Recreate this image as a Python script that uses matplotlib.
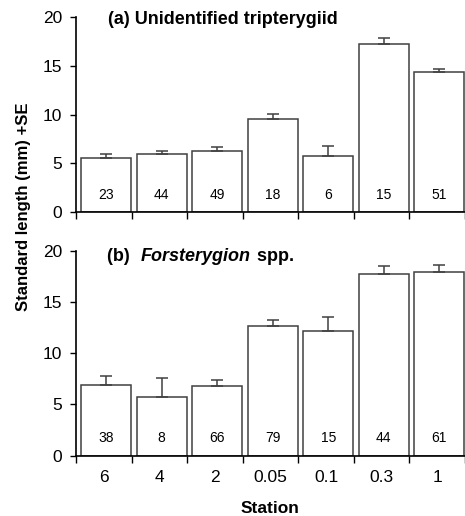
import numpy as np
import matplotlib
matplotlib.use('Agg')
import matplotlib.pyplot as plt
from matplotlib.transforms import offset_copy

plt.rcParams['font.family'] = ['Liberation Sans', 'DejaVu Sans']

estaciones = ['6', '4', '2', '0.05', '0.1', '0.3', '1']

# (a) Unidentified tripterygiid
media_a = [5.5, 5.95, 6.3, 9.5, 5.8, 17.2, 14.4]
se_a = [0.5, 0.35, 0.4, 0.6, 1.0, 0.7, 0.3]
n_a = [23, 44, 49, 18, 6, 15, 51]

# (b) Forsterygion spp.
media_b = [6.9, 5.7, 6.75, 12.7, 12.2, 17.7, 17.9]
se_b = [0.85, 1.9, 0.65, 0.5, 1.3, 0.8, 0.7]
n_b = [38, 8, 66, 79, 15, 44, 61]

fig = plt.figure(figsize=(4.65, 5.16), dpi=100)
ax_a = fig.add_axes([0.1634, 0.589, 0.8366, 0.378])
ax_b = fig.add_axes([0.1634, 0.117, 0.8366, 0.397])

x = np.arange(len(estaciones))


def panel(ax, media, se, n):
    ax.bar(x + 0.04, media, width=0.9, color='white', edgecolor='#404040', linewidth=1.1, zorder=2)
    ax.errorbar(x + 0.04, media, yerr=[np.zeros(len(se)), se], fmt='none', ecolor='#404040',
                elinewidth=1.1, capsize=4.3, capthick=1.1, zorder=3)
    for i in range(len(n)):
        ax.text(x[i] + 0.04, 1.7, str(n[i]), ha='center', va='center', fontsize=10)
    ax.set_xlim(-0.5, 6.5)
    ax.set_ylim(0, 20)
    ax.set_yticks([0, 5, 10, 15, 20])
    ax.spines['top'].set_visible(False)
    ax.spines['right'].set_visible(False)
    ax.spines['left'].set_linewidth(1.2)
    ax.spines['bottom'].set_linewidth(1.2)
    ax.tick_params(axis='y', direction='out', length=4, width=1, labelsize=12.5, pad=6)
    # ticks en x entre barras
    ax.set_xticks(np.arange(-0.5, 7, 1.0))
    ax.set_xticklabels([])
    ax.tick_params(axis='x', direction='out', length=5, width=1)
    ax.set_xticks(x, minor=True)
    ax.tick_params(axis='x', which='minor', length=0)


panel(ax_a, media_a, se_a, n_a)
panel(ax_b, media_b, se_b, n_b)

ax_b.set_xticklabels(estaciones, minor=True, fontsize=12.5)
ax_b.tick_params(axis='x', which='minor', pad=10)

ax_a.text(0.08, 19.7, '(a) Unidentified tripterygiid', fontsize=13, fontweight='bold', va='center')

# titulo (b) en partes: normal + cursiva + normal
partes = [('(b) ', 'normal'), ('Forsterygion', 'italic'), (' spp.', 'normal')]
fig.canvas.draw()
rend = fig.canvas.get_renderer()
trans = ax_b.transData
dx = 0
for txt, estilo in partes:
    t = ax_b.text(0.06, 19.4, txt, fontsize=13, fontweight='bold', fontstyle=estilo, va='center',
                  transform=offset_copy(trans, fig=fig, x=dx, y=0, units='dots'))
    bb = t.get_window_extent(renderer=rend)
    dx += bb.width + (6 if txt.endswith(' ') else 1)

ax_b.set_xlabel('Station', fontsize=12.5, fontweight='bold', labelpad=12)
fig.text(0.05, 0.599, 'Standard length (mm) +SE', rotation=90, ha='center', va='center',
         fontsize=12, fontweight='bold')

plt.savefig('out.png', dpi=100)
